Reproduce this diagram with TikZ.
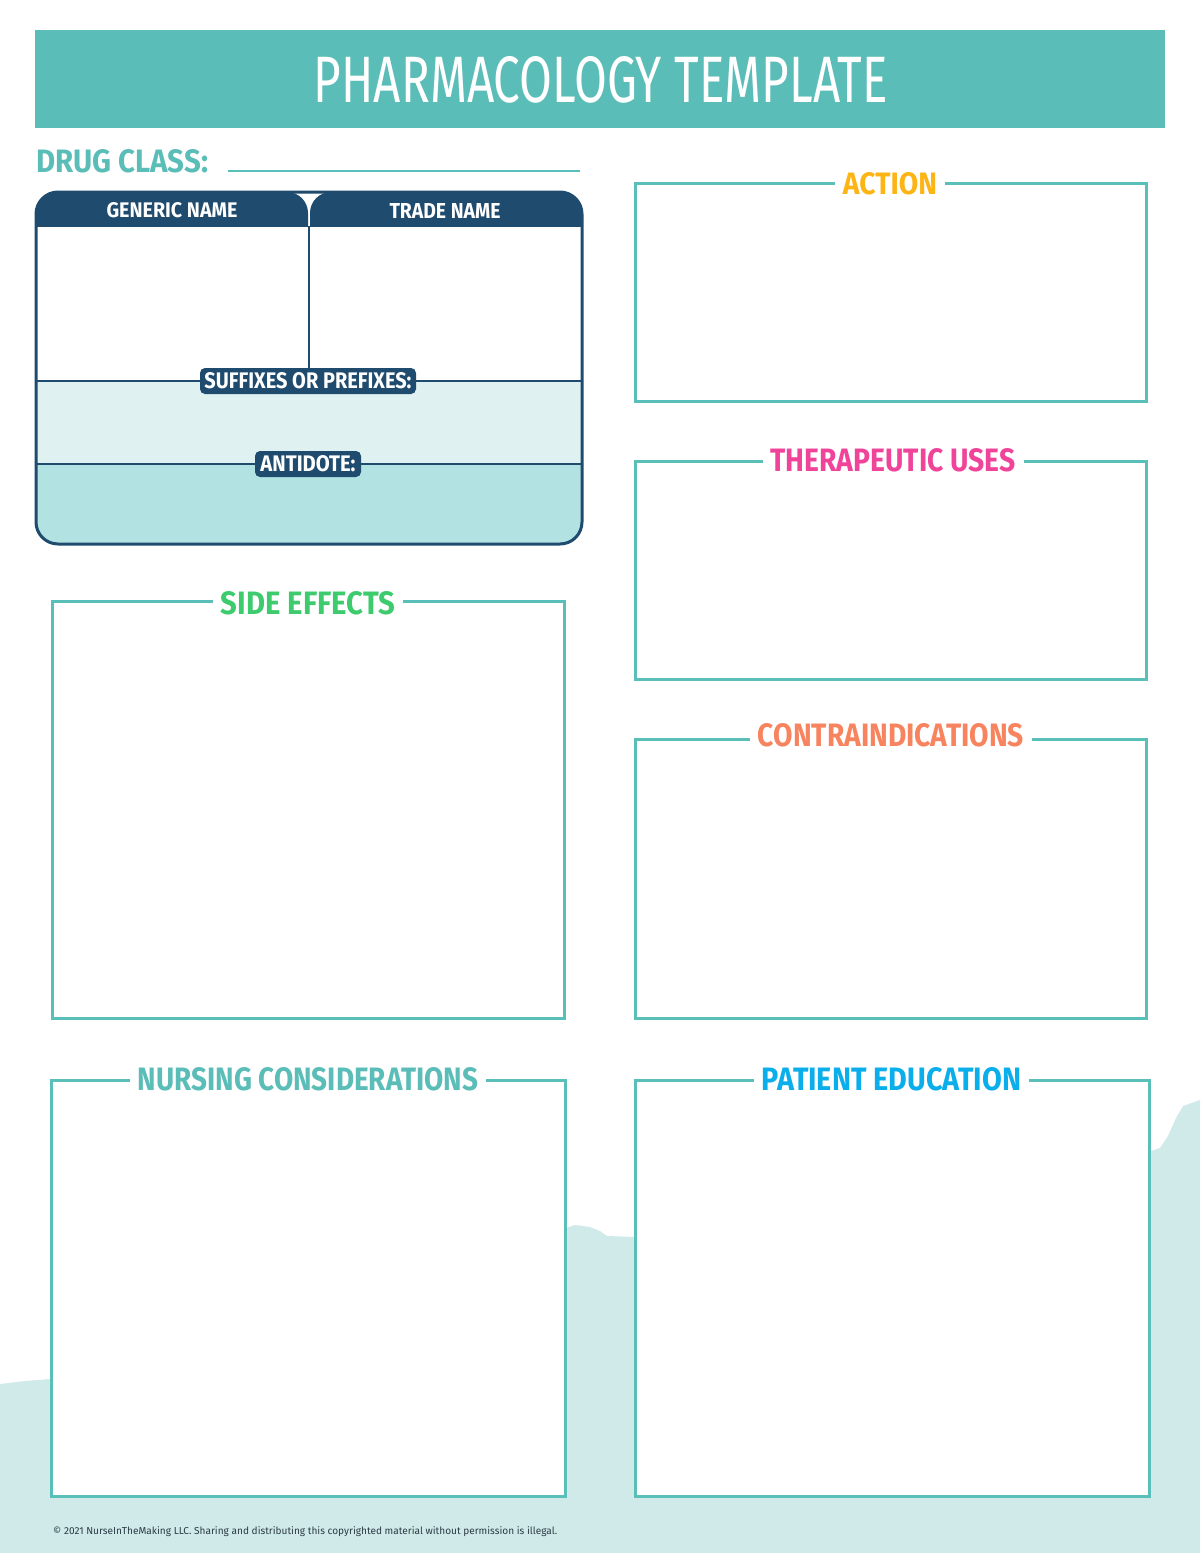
\documentclass[tikz,border=0pt]{standalone}
\usepackage{fontspec}
\setmainfont{Fira Sans}
\usepackage{graphicx}
\definecolor{hdrteal}{HTML}{5BBDB7}
\definecolor{boxteal}{HTML}{5BBFB9}
\definecolor{bgteal}{HTML}{D0EAE9}
\definecolor{navy}{HTML}{1F4B6E}
\definecolor{bandone}{HTML}{DFF2F1}
\definecolor{bandtwo}{HTML}{B2E2E1}
\definecolor{actorange}{HTML}{FDB515}
\definecolor{therpink}{HTML}{F0449A}
\definecolor{sidegreen}{HTML}{3DCB6E}
\definecolor{contracoral}{HTML}{F7845E}
\definecolor{edublue}{HTML}{0AAEEB}
\definecolor{footdark}{HTML}{2B3A45}
\newcommand{\fitlab}[3]{\resizebox{#1pt}{#2pt}{#3}}
\begin{document}
\begin{tikzpicture}[x=1pt,y=-1pt,
  panel/.style={draw=boxteal, line width=3pt, fill=white, inner sep=0pt, outer sep=0pt, anchor=north west},
  lab/.style={fill=white, inner xsep=8pt, inner ysep=0pt, font=\bfseries},
  tag/.style={fill=navy, rounded corners=5pt, text=white, inner sep=0pt, font=\bfseries},
  colhead/.style={text=white, inner sep=0pt, font=\bfseries}]
\useasboundingbox (0,0) rectangle (1200,1553);
% background wave
\fill[bgteal] (0,1384) -- (25,1381) -- (50,1379) -- (566,1228) -- (575,1225) -- (590,1227) -- (600,1231) -- (607,1236) -- (636,1237) -- (1148,1152) -- (1160,1148) -- (1168,1136) -- (1176,1118) -- (1183,1106) -- (1200,1100) -- (1200,1553) -- (0,1553) -- cycle;
% header
\node[fill=hdrteal, minimum width=1130, minimum height=98, anchor=north west, inner sep=0pt, outer sep=0pt] (hdr) at (35,30) {};
\node[text=white, inner sep=0pt] (title) at (601,80) {\fitlab{574}{46}{PHARMACOLOGY TEMPLATE}};
% drug class
\node[anchor=west, text=hdrteal, font=\bfseries, inner sep=0pt] (dc) at (36,161.5) {\fitlab{172}{23}{DRUG CLASS:}};
\coordinate (dcl) at (228,171);
\coordinate (dcr) at (580,171);
\draw[boxteal, line width=2.5pt] (dcl) -- (dcr);
% table
\begin{scope}
\clip[rounded corners=22pt] (36,192) rectangle (582,544);
\fill[white] (36,192) rectangle (582,381);
\fill[bandone] (36,381) rectangle (582,464);
\fill[bandtwo] (36,464) rectangle (582,544);
\end{scope}
\begin{scope}
\clip (0,180) rectangle (1200,226);
\fill[navy, rounded corners=21pt] (36,192) rectangle (308,270);
\fill[navy, rounded corners=21pt] (310,192) rectangle (582,270);
\end{scope}
\draw[navy, line width=2.8pt] (309,226) -- (309,381);
\draw[navy, line width=2.5pt] (36,381) -- (582,381);
\draw[navy, line width=2.5pt] (36,464) -- (582,464);
\draw[navy, line width=3pt, rounded corners=22pt] (36,192) rectangle (582,544);
\node[colhead] (gen) at (172,210.5) {\fitlab{131}{15}{GENERIC NAME}};
\node[colhead] (trade) at (445,210.5) {\fitlab{111}{15}{TRADE NAME}};
\node[tag, minimum width=216, minimum height=26] (suf) at (308,381) {\fitlab{207}{16}{SUFFIXES OR PREFIXES:}};
\node[tag, minimum width=106, minimum height=26] (anti) at (308,464) {\fitlab{95}{16}{ANTIDOTE:}};
% panels
\node[panel, minimum width=511, minimum height=218] (action) at (635,183) {};
\node[lab, text=actorange] (actionlab) at (890,184) {\fitlab{94}{22}{ACTION}};
\node[panel, minimum width=511, minimum height=218] (ther) at (635,461) {};
\node[lab, text=therpink] (therlab) at (893,460.5) {\fitlab{245}{23}{THERAPEUTIC USES}};
\node[panel, minimum width=511, minimum height=279] (contra) at (635,739) {};
\node[lab, text=contracoral] (contralab) at (891,735.5) {\fitlab{266}{23}{CONTRAINDICATIONS}};
\node[panel, minimum width=512, minimum height=417] (side) at (52,601) {};
\node[lab, text=sidegreen] (sidelab) at (308,603.5) {\fitlab{174}{23}{SIDE EFFECTS}};
\node[panel, minimum width=514, minimum height=416] (nurse) at (51,1080) {};
\node[lab, text=hdrteal] (nurselab) at (308,1079.5) {\fitlab{340}{23}{NURSING CONSIDERATIONS}};
\node[panel, minimum width=514, minimum height=416] (edu) at (635,1080) {};
\node[lab, text=edublue] (edulab) at (891.5,1079.5) {\fitlab{259}{23}{PATIENT EDUCATION}};
% footer
\node[anchor=west, text=footdark, inner sep=0pt] (foot) at (53,1532) {\resizebox{504pt}{!}{© 2021 NurseInTheMaking LLC. Sharing and distributing this copyrighted material without permission is illegal.}};
\end{tikzpicture}
\end{document}
